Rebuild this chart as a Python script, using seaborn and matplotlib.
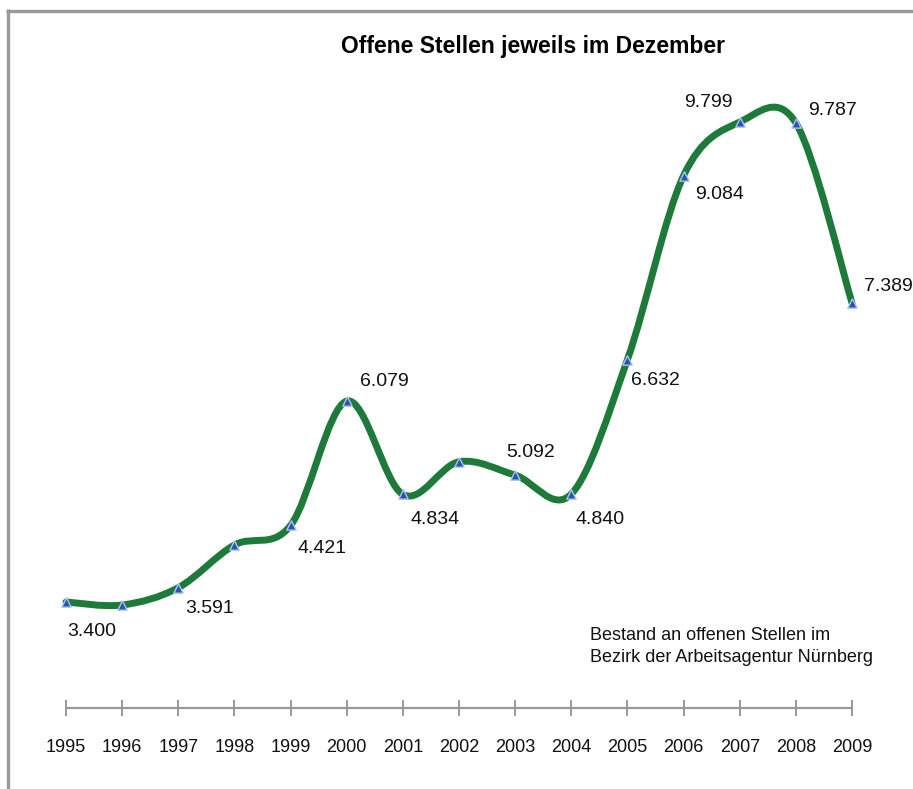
import matplotlib
matplotlib.use("Agg")
import matplotlib.pyplot as plt
import seaborn as sns
import pandas as pd
from matplotlib.path import Path
from matplotlib.patches import PathPatch
from matplotlib.lines import Line2D

# ---------------- data ----------------
years = [1995, 1996, 1997, 1998, 1999, 2000, 2001, 2002, 2003, 2004,
         2005, 2006, 2007, 2008, 2009]
values = [3.400, 3.36, 3.591, 4.16, 4.421, 6.079, 4.834, 5.27, 5.092, 4.840,
          6.632, 9.084, 9.799, 9.787, 7.389]
point_labels = ["3.400", None, "3.591", None, "4.421", "6.079", "4.834", None,
                "5.092", "4.840", "6.632", "9.084", "9.799", "9.787", "7.389"]
title = "Offene Stellen jeweils im Dezember"
note = "Bestand an offenen Stellen im\nBezirk der Arbeitsagentur Nürnberg"

# label offsets (pixels) – styling only
label_offsets = [(26, -29), None, (31, -21), None, (31, -23), (38, 20), (32, -25),
                 None, (15, 23), (29, -25), (28, -21), (36, -19), (-31, 20),
                 (37, 12), (36, 16)]

df = pd.DataFrame({"Jahr": years, "Wert": values})

W, H = 913, 789
sns.set_theme(style="white")
plt.rcParams["font.family"] = ["Liberation Sans", "DejaVu Sans"]
narrow = ["Liberation Sans Narrow", "Liberation Sans", "DejaVu Sans"]

fig = plt.figure(figsize=(W / 100, H / 100), dpi=100)
fig.patch.set_facecolor("white")

# axes placement in pixels
ax_left, ax_right, ax_top, ax_bottom = 30, 890, 90, 708
ax = fig.add_axes([ax_left / W, 1 - ax_bottom / H,
                   (ax_right - ax_left) / W, (ax_bottom - ax_top) / H])
px_per_year = (852 - 66) / 14
ax.set_xlim(1995 - (66 - ax_left) / px_per_year, 2009 + (ax_right - 852) / px_per_year)
px_per_unit = 75.0
ax.set_ylim(3.4 - (ax_bottom - 602) / px_per_unit, 3.4 + (602 - ax_top) / px_per_unit)

# smooth curve (Catmull-Rom as cubic Bezier segments through data points)
pts = list(zip(years, values))
n = len(pts)
verts = [pts[0]]
codes = [Path.MOVETO]
for i in range(n - 1):
    p0 = pts[i - 1] if i > 0 else pts[i]
    p1 = pts[i]
    p2 = pts[i + 1]
    p3 = pts[i + 2] if i + 2 < n else pts[i + 1]
    c1 = (p1[0] + (p2[0] - p0[0]) / 6, p1[1] + (p2[1] - p0[1]) / 6)
    c2 = (p2[0] - (p3[0] - p1[0]) / 6, p2[1] - (p3[1] - p1[1]) / 6)
    verts += [c1, c2, p2]
    codes += [Path.CURVE4] * 3
curve = PathPatch(Path(verts, codes), facecolor="none", edgecolor="#1d7a3a",
                  lw=5.0, capstyle="round", joinstyle="round", zorder=2)
ax.add_patch(curve)

sns.scatterplot(data=df, x="Jahr", y="Wert", marker="^", s=45,
                color="#2e4fb5", edgecolor="#a9c6ee", linewidth=1.0,
                zorder=3, ax=ax, legend=False)

for x, y, lab, off in zip(years, values, point_labels, label_offsets):
    if lab is None:
        continue
    ax.annotate(lab, (x, y), xytext=off, textcoords="offset pixels",
                ha="center", va="center", fontsize=14, family=narrow,
                color="#111111")

# axes styling
for s in ["top", "right", "left"]:
    ax.spines[s].set_visible(False)
ax.spines["bottom"].set_color("#999999")
ax.spines["bottom"].set_linewidth(1.6)
ax.spines["bottom"].set_bounds(1995, 2009)
ax.set_xticks(years)
ax.set_xticklabels([str(y) for y in years], family=narrow, fontsize=13,
                   color="#111111")
ax.tick_params(axis="x", direction="inout", length=11, width=1.4,
               color="#999999", pad=17, bottom=True)
ax.set_yticks([])
ax.set_xlabel("")
ax.set_ylabel("")
ax.set_facecolor("none")

# title and note
fig.text(533 / W, 1 - 47 / H, title, ha="center", va="center",
         fontsize=16.5, fontweight="bold", color="#000000")
fig.text(590 / W, 1 - 627 / H, note, ha="left", va="top", fontsize=13,
         color="#111111", linespacing=1.35)

# outer frame (left and top gray lines)
fig.add_artist(Line2D([7.5 / W, 7.5 / W], [0, 1 - 9 / H], transform=fig.transFigure,
                      color="#9a9a9a", lw=2.4, solid_capstyle="butt"))
fig.add_artist(Line2D([6.3 / W, 1], [1 - 10.5 / H, 1 - 10.5 / H], transform=fig.transFigure,
                      color="#9a9a9a", lw=2.4, solid_capstyle="butt"))

fig.savefig("out.png", dpi=100, facecolor="white")
